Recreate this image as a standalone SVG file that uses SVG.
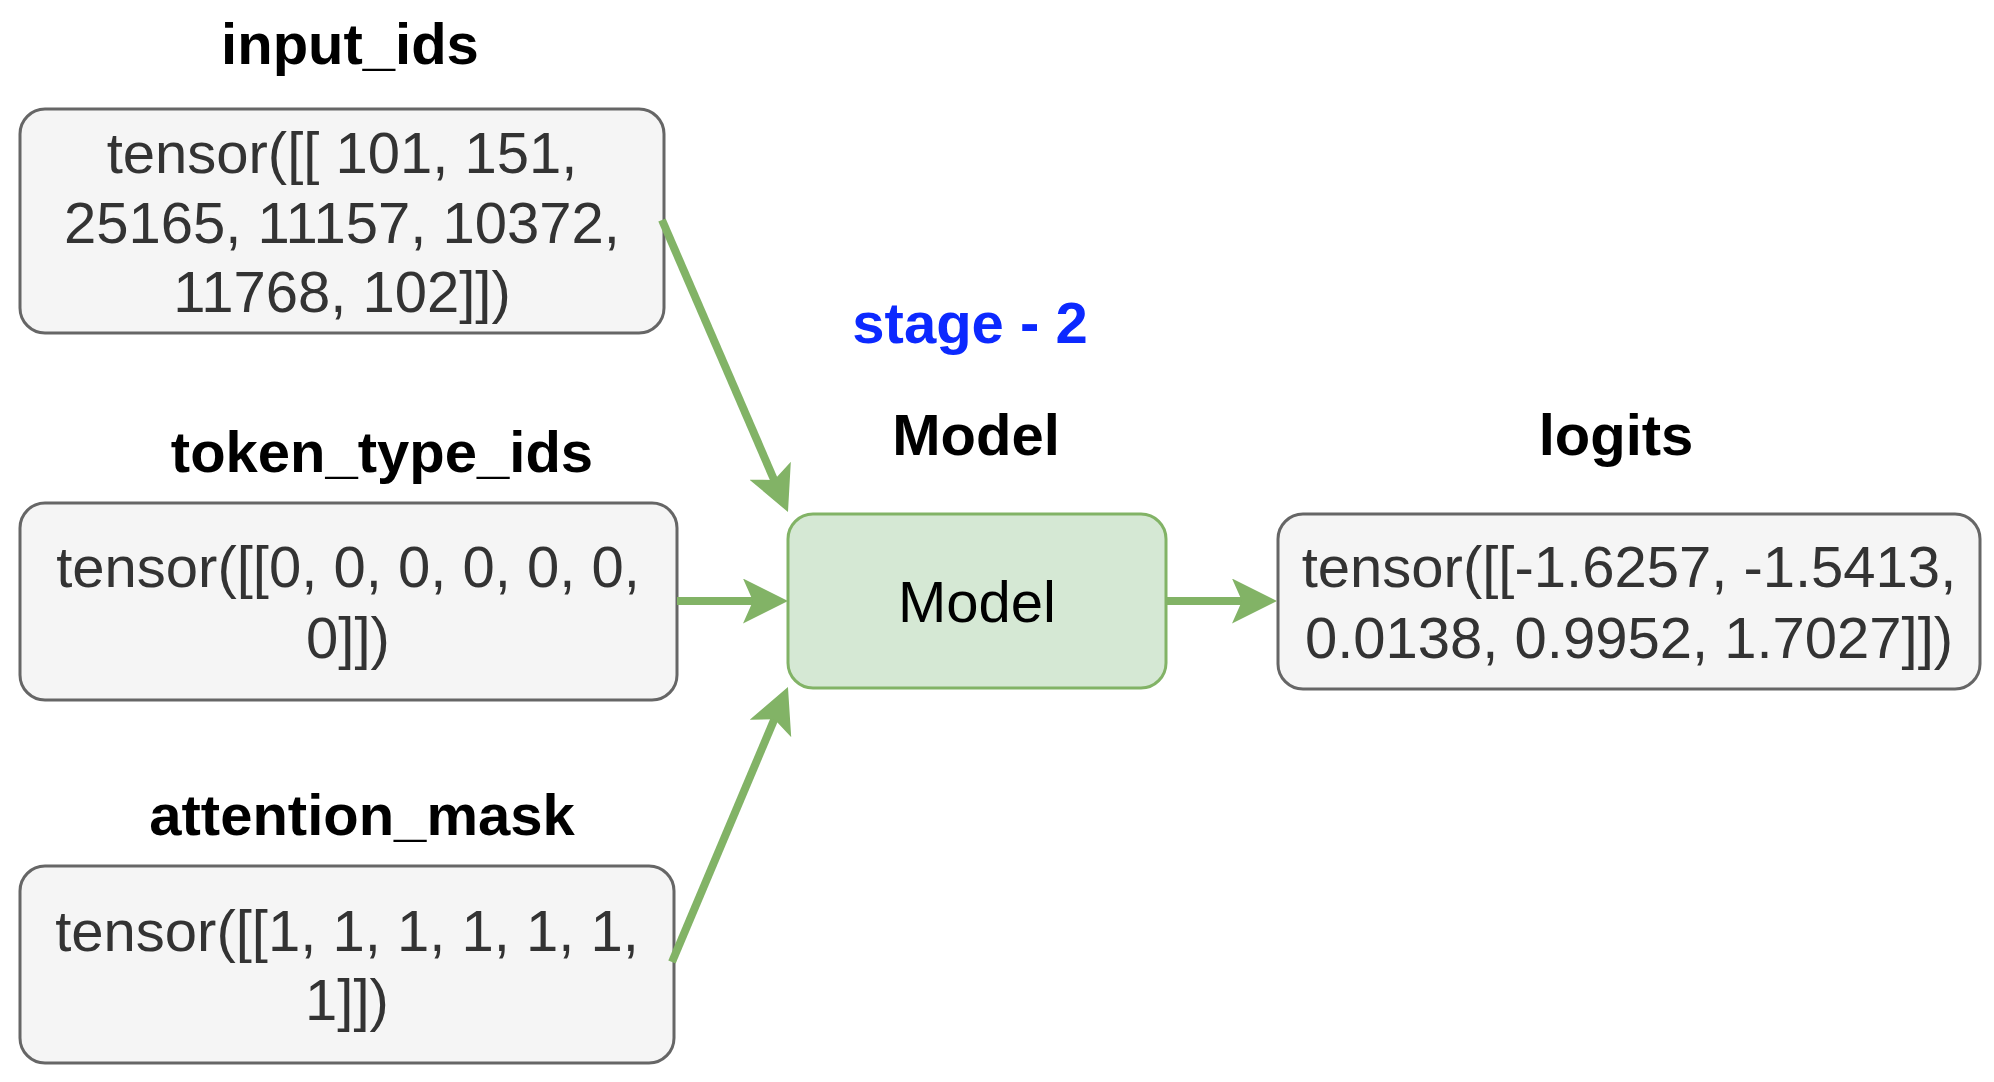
<svg xmlns="http://www.w3.org/2000/svg" width="1994" height="1082" viewBox="0 0 1994 1082">
<style>
.box{fill:#f5f5f5;stroke:#666666;stroke-width:3}
.model{fill:#d5e8d4;stroke:#82b366;stroke-width:3}
.t{font-family:"Liberation Sans",Arial,Helvetica,sans-serif;font-size:58px;text-anchor:middle;fill:#333333}
.m{fill:#000000}
.h{font-family:"Liberation Sans",Arial,Helvetica,sans-serif;font-size:58px;font-weight:bold;text-anchor:middle;fill:#000000}
.blue{fill:#0c29ff}
.c{fill:none;stroke:#82b366;stroke-width:8;marker-end:url(#ah)}
</style>
<defs>
<marker id="ah" markerUnits="userSpaceOnUse" markerWidth="46" markerHeight="46" viewBox="0 0 46 46" refX="15" refY="22.5" orient="auto">
<path d="M0,0 L45,22.5 L0,45 L10,22.5 Z" fill="#82b366"/>
</marker>
</defs>
<rect width="1994" height="1082" fill="#ffffff"/>
<g id="labels">
<text class="h" x="350" y="64">input_ids</text>
<text class="h" x="382" y="472">token_type_ids</text>
<text class="h" x="362" y="835">attention_mask</text>
<text class="h blue" x="970" y="343">stage - 2</text>
<text class="h" x="976" y="455">Model</text>
<text class="h" x="1616" y="455">logits</text>
</g>
<g id="input_ids">
<rect class="box" x="20" y="109" width="644" height="224" rx="25"/>
<text class="t" x="342" y="173">tensor([[ 101, 151,</text>
<text class="t" x="342" y="243">25165, 11157, 10372,</text>
<text class="t" x="342" y="312">11768, 102]])</text>
</g>
<g id="token_type_ids">
<rect class="box" x="20" y="503" width="657" height="197" rx="25"/>
<text class="t" x="348" y="587">tensor([[0, 0, 0, 0, 0, 0,</text>
<text class="t" x="348" y="658">0]])</text>
</g>
<g id="attention_mask">
<rect class="box" x="20" y="866" width="654" height="197" rx="25"/>
<text class="t" x="347" y="951">tensor([[1, 1, 1, 1, 1, 1,</text>
<text class="t" x="347" y="1020">1]])</text>
</g>
<g id="model">
<rect class="model" x="788" y="514" width="378" height="174" rx="25"/>
<text class="t m" x="977" y="622">Model</text>
</g>
<g id="logits">
<rect class="box" x="1278" y="514" width="702" height="175" rx="25"/>
<text class="t" x="1629" y="587">tensor([[-1.6257, -1.5413,</text>
<text class="t" x="1629" y="658">0.0138, 0.9952, 1.7027]])</text>
</g>
<g id="connectors">
<path class="c" d="M662,220 L776.1,484.5"/>
<path class="c" d="M677,601 L758,601"/>
<path class="c" d="M672,962 L776.3,714.6"/>
<path class="c" d="M1166,601 L1247,601"/>
</g>
</svg>
